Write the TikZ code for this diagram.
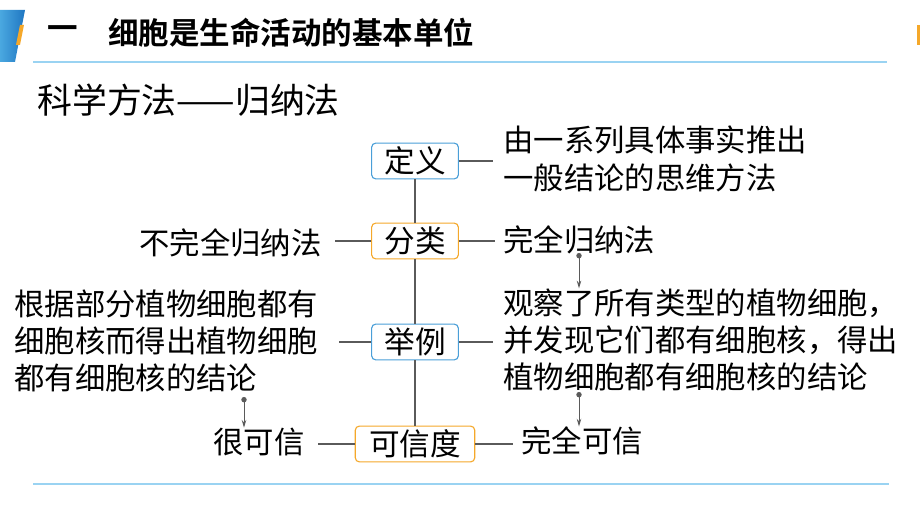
\documentclass[tikz,border=0pt]{standalone}
\usepackage{fontspec}
\setmainfont{Noto Sans CJK SC}[BoldFont={Noto Sans CJK SC Bold}]
\usetikzlibrary{arrows.meta}

\definecolor{boxblue}{HTML}{4A9FD8}
\definecolor{boxorange}{HTML}{F5A82A}
\definecolor{linkgray}{HTML}{5A5A5A}
\definecolor{rulerblue}{HTML}{9AD3F2}
\definecolor{barlight}{HTML}{4AA8E0}
\definecolor{bardark}{HTML}{1F76C2}

\newcommand\bodyfont{\fontsize{21.6pt}{26.5pt}\selectfont}
\newcommand\boxfont{\fontsize{21.8pt}{25pt}\selectfont}
\newcommand\titlefont{\fontsize{21.7pt}{25pt}\selectfont\bfseries}
\newcommand\subfont{\fontsize{24.8pt}{28pt}\selectfont}

\tikzset{
  kbox/.style={draw=#1, fill=white, rounded corners=3pt, line width=0.8pt,
    minimum height=25.5pt, inner sep=0pt, font=\boxfont},
  txt/.style={inner sep=0pt, font=\bodyfont},
  link/.style={draw=linkgray, line width=0.8pt},
  arr/.style={draw=linkgray, line width=0.7pt,
    {Circle[length=3.8pt]}-{Stealth[length=5.5pt,width=3.2pt]}},
}

\begin{document}
\begin{tikzpicture}[x=0.025cm, y=-0.025cm]
        \useasboundingbox (0,0) rectangle (920,518);

        % title bar
        \shade[left color=barlight, right color=bardark] (0,10) -- (25,10) -- (15,62) -- (0,62) -- cycle;
        \fill[boxorange] (20,25) -- (24,25) -- (20,45) -- (16,45) -- cycle;
        \fill[boxorange] (917,25) rectangle (920,45);
        \node[font=\titlefont, anchor=west, inner sep=0pt] (yi) at (47,33) {一};
        \node[font=\titlefont, anchor=west, inner sep=0pt] (title) at (108,33) {细胞是生命活动的基本单位};
        \draw[rulerblue, line width=1pt] (33,62) -- (887,62);
        \draw[rulerblue, line width=1pt] (33,484) -- (889,484);

        \node[font=\subfont, anchor=west, inner sep=0pt] (fangfa) at (37,100) {科学方法——归纳法};

        % the four boxes
        \node[kbox=boxblue, minimum width=61.7pt] (dingyi) at (415,161) {定义};
        \node[kbox=boxorange, minimum width=61.7pt] (fenlei) at (415,241) {分类};
        \node[kbox=boxblue, minimum width=61.7pt] (juli) at (415,342) {举例};
        \node[kbox=boxorange, minimum width=85pt] (kexin) at (415,444) {可信度};

        % texts
        \node[txt, anchor=west, align=left] (dydef) at (503,159) {由一系列具体事实推出\\一般结论的思维方法};
        \node[txt, anchor=east] (buwq) at (322,243) {不完全归纳法};
        \node[txt, anchor=west] (wq) at (503,240) {完全归纳法};
        \node[txt, anchor=west, align=left] (bwqli) at (14,341) {根据部分植物细胞都有\\细胞核而得出植物细胞\\都有细胞核的结论};
        \node[txt, anchor=west, align=left] (wqli) at (503,340) {观察了所有类型的植物细胞，\\并发现它们都有细胞核，得出\\植物细胞都有细胞核的结论};
        \node[txt, anchor=east] (hkx) at (305,442) {很可信};
        \node[txt, anchor=west] (wqkx) at (521,441) {完全可信};

        % connectors
        \draw[link] (dingyi) -- (fenlei) -- (juli) -- (kexin);
        \draw[link, shorten >=7pt] (dingyi.east) -- (dingyi.east -| dydef.west);
        \draw[link, shorten >=6pt] (fenlei.east) -- (fenlei.east -| wq.west);
        \draw[link, shorten >=9pt] (fenlei.west) -- (fenlei.west -| buwq.east);
        \draw[link, shorten >=15pt] (juli.west) -- (juli.west -| bwqli.east);
        \draw[link, shorten >=7pt] (juli.east) -- (juli.east -| wqli.west);
        \draw[link, shorten >=9pt] (kexin.west) -- (kexin.west -| hkx.east);
        \draw[link, shorten >=6pt] (kexin.east) -- (kexin.east -| wqkx.west);

        % arrows to the conclusions
        \coordinate (a1) at (579,253);
        \coordinate (a2) at (244,397);
        \coordinate (a3) at (579,392);
        \draw[arr] (a1) -- (a1 |- wqli.north);
        \draw[arr] (a2) -- (a2 |- hkx.north);
        \draw[arr] (a3) -- (a3 |- wqkx.north);
      \end{tikzpicture}
\end{document}
